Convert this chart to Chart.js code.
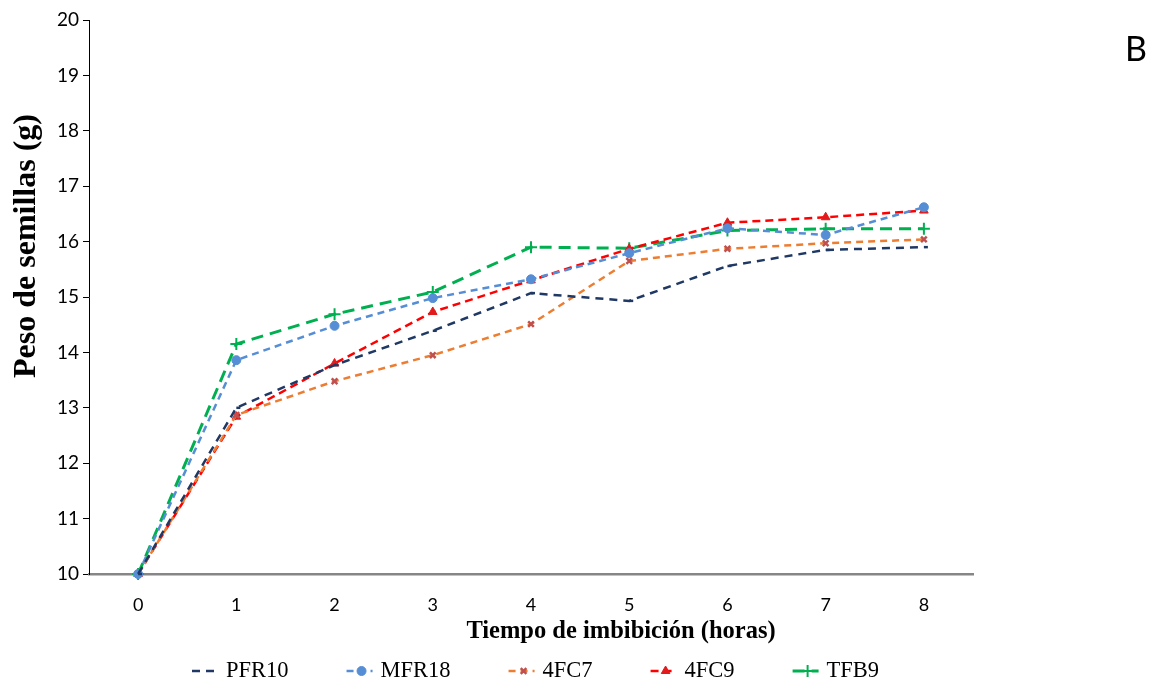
<!DOCTYPE html>
<html>
<head>
<meta charset="utf-8">
<script src="https://cdn.jsdelivr.net/npm/chart.js@4.4.1/dist/chart.umd.min.js"></script>
<style>
  html, body { margin: 0; padding: 0; background: #fff; }
  #wrap { width: 1152px; height: 684px; position: relative; }
</style>
</head>
<body>
<div id="wrap"><canvas id="chart"></canvas></div>
<script>
// Tiempo de imbibición (horas)
const horas = ['0', '1', '2', '3', '4', '5', '6', '7', '8'];
const yTicks = [10, 11, 12, 13, 14, 15, 16, 17, 18, 19, 20];

// Peso de semillas (g) por genotipo
const pfr10 = [10, 13.00, 13.77, 14.39, 15.07, 14.93, 15.56, 15.85, 15.90];
const mfr18 = [10, 13.86, 14.48, 14.98, 15.32, 15.79, 16.24, 16.12, 16.62];
const fc7   = [10, 12.87, 13.48, 13.95, 14.51, 15.65, 15.87, 15.97, 16.04];
const fc9   = [10, 12.84, 13.80, 14.73, 15.30, 15.87, 16.34, 16.44, 16.56];
const tfb9  = [10, 14.15, 14.69, 15.09, 15.90, 15.88, 16.20, 16.23, 16.23];

const serif = '"Liberation Serif", "Times New Roman", serif';
const sans = 'Lato, "Open Sans", sans-serif';

function serie(label, data, color, dash, width, style, pointColor, radius, pointBorder) {
    return {
        label: label,
        data: data,
        borderColor: color,
        borderWidth: width,
        borderDash: dash,
        pointStyle: style,
        pointRadius: radius,
        pointHoverRadius: radius,
        pointBackgroundColor: pointColor,
        pointBorderColor: pointColor,
        pointBorderWidth: pointBorder,
        tension: 0,
        fill: false,
        clip: false
    };
}

// Axis titles, legend and panel letter drawn on the canvas
const extraText = {
    id: 'extraText',
    afterDraw(chart) {
        const ctx = chart.ctx;
        ctx.save();
        ctx.fillStyle = '#000';

        ctx.font = 'bold 24.5px ' + serif;
        ctx.textAlign = 'center';
        ctx.textBaseline = 'middle';
        ctx.fillText('Tiempo de imbibición (horas)', 621, 632);

        ctx.save();
        ctx.translate(27, 246);
        ctx.rotate(-Math.PI / 2);
        ctx.font = 'bold 32px ' + serif;
        ctx.fillText('Peso de semillas (g)', 0, 0);
        ctx.restore();

        ctx.font = '34px ' + sans;
        ctx.fillText('B', 1136, 50);

        // legend
        ctx.font = '22.5px ' + serif;
        ctx.textAlign = 'left';
        let x = 192;
        const y = 671;
        chart.data.datasets.forEach(ds => {
            ctx.save();
            ctx.strokeStyle = ds.borderColor;
            ctx.lineWidth = ds.borderWidth;
            ctx.setLineDash(ds.borderDash);
            ctx.beginPath();
            ctx.moveTo(x, y);
            ctx.lineTo(x + 26, y);
            ctx.stroke();
            ctx.restore();
            if (ds.pointStyle !== 'dash') {
                ctx.save();
                ctx.fillStyle = ds.pointBackgroundColor;
                ctx.strokeStyle = ds.pointBorderColor;
                ctx.lineWidth = ds.pointBorderWidth;
                Chart.helpers.drawPoint(ctx, {
                    pointStyle: ds.pointStyle,
                    radius: ds.pointRadius,
                    borderWidth: ds.pointBorderWidth,
                    rotation: 0
                }, x + 15, y);
                ctx.restore();
            }
            ctx.fillStyle = '#000';
            ctx.fillText(ds.label, x + 34, y);
            x += 34 + ctx.measureText(ds.label).width + 58;
        });
        ctx.restore();
    }
};

new Chart(document.getElementById('chart'), {
    type: 'line',
    data: {
        labels: horas,
        datasets: [
            serie('PFR10', pfr10, '#1F3864', [8, 6], 2.5, 'dash', '#1F3864', 4, 2.5),
            serie('MFR18', mfr18, '#558ED5', [7, 5], 2.5, 'circle', '#558ED5', 4.5, 1),
            serie('4FC7', fc7, '#ED7D31', [7, 5], 2.5, 'crossRot', '#C0504D', 4, 2.5),
            serie('4FC9', fc9, '#FF0000', [8, 5], 2.5, 'triangle', '#E31A1C', 5, 1),
            serie('TFB9', tfb9, '#00B050', [12, 7], 3, 'cross', '#00B050', 6, 2)
        ]
    },
    options: {
        responsive: true,
        maintainAspectRatio: false,
        animation: false,
        layout: { padding: { top: 20, right: 179, left: 0, bottom: 0 } },
        plugins: {
            legend: { display: false },
            tooltip: { enabled: false }
        },
        scales: {
            x: {
                offset: true,
                grid: { display: true, drawOnChartArea: false, drawTicks: false },
                border: { display: true, color: '#868686', width: 2.5 },
                ticks: {
                    padding: 20,
                    color: '#000',
                    font: { family: sans, size: 18 }
                },
                afterFit: s => { s.height = 110; }
            },
            y: {
                min: 10,
                max: 20,
                afterBuildTicks: s => { s.ticks = yTicks.map(v => ({ value: v })); },
                grid: { display: true, drawOnChartArea: false, drawTicks: true, tickLength: 6, color: '#000' },
                border: { display: true, color: '#000', width: 1 },
                ticks: {
                    padding: 4,
                    color: '#000',
                    font: { family: sans, size: 19 }
                },
                afterFit: s => { s.width = 89; }
            }
        }
    },
    plugins: [extraText]
});
</script>
</body>
</html>
